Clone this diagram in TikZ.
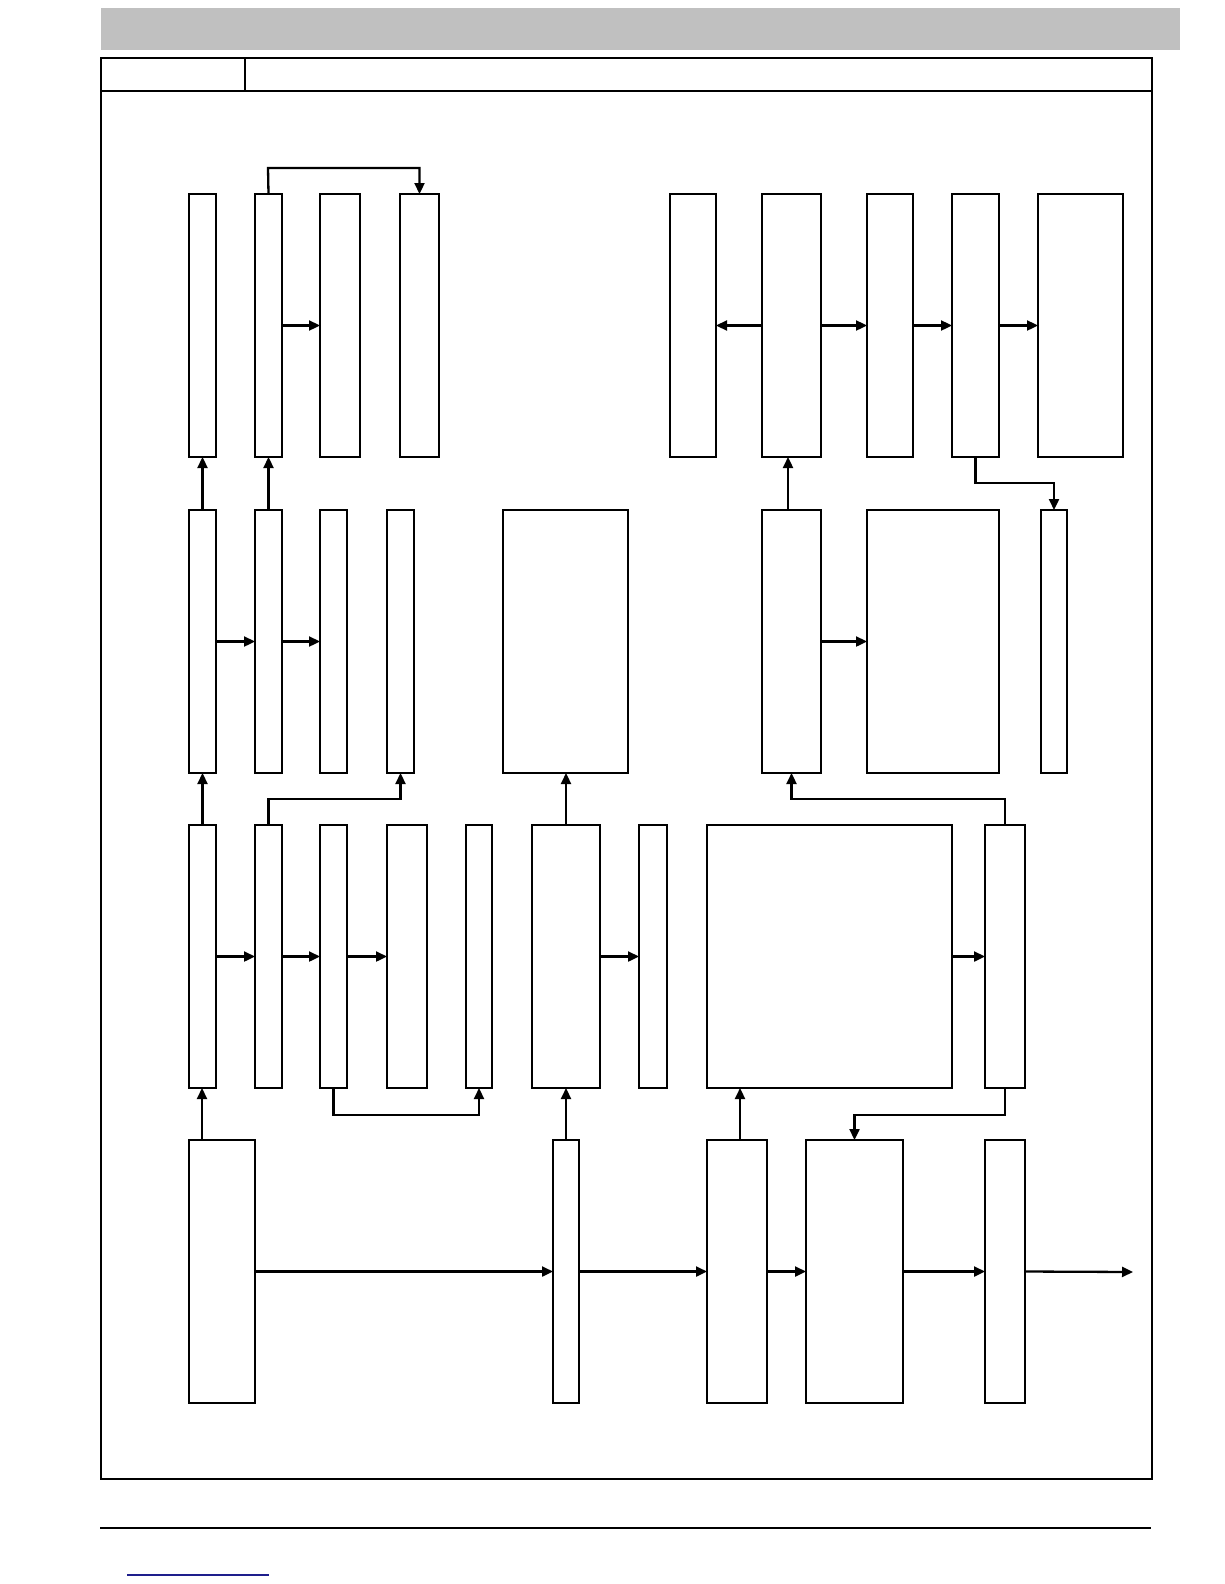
\documentclass[tikz,border=0pt]{standalone}
\usetikzlibrary{arrows.meta}
\definecolor{barGray}{RGB}{192,192,192}
\definecolor{linkBlue}{RGB}{30,30,140}
\tikzset{
  box/.style={draw=black, line width=1.7pt, fill=white, inner sep=0pt, outer sep=0pt, rectangle},
  flow/.style={line width=2.3pt, -{Triangle[length=11pt,width=10pt]}},
  framebox/.style={draw=black, line width=1.5pt},
}
\newcommand{\bx}[5]{\node[box,anchor=north west,minimum width={#4pt-#2pt},minimum height={#5pt-#3pt}] (#1) at (#2,#3) {};}
\begin{document}
\begin{tikzpicture}[x=1pt,y=-1pt]
\useasboundingbox (0,0) rectangle (1224,1584);
% header band
\fill[barGray] (101,8) rectangle (1180,50);
% frame
\draw[framebox] (101,58) rectangle (1152,1479);
\draw[line width=2.6pt] (101,91) -- (1152,91);
\draw[framebox] (245,58) -- (245,91);
% footer
\draw[line width=2.6pt] (100,1528) -- (1151,1528);
\draw[linkBlue, line width=1.2pt] (127,1575) -- (269,1575);

% row 1
\bx{A1}{189}{194}{216}{457}
\bx{A2}{255}{194}{282}{457}
\bx{A3}{320}{194}{360}{457}
\bx{A4}{400}{194}{439}{457}
\bx{B1}{670}{194}{716}{457}
\bx{B2}{762}{194}{821}{457}
\bx{B3}{867}{194}{913}{457}
\bx{B4}{952}{194}{999}{457}
\bx{B5}{1038}{194}{1123}{457}
% row 2
\bx{C1}{189}{510}{216}{773}
\bx{C2}{255}{510}{282}{773}
\bx{C3}{320}{510}{347}{773}
\bx{C4}{387}{510}{414}{773}
\bx{C5}{503}{510}{628}{773}
\bx{C6}{762}{510}{821}{773}
\bx{C7}{867}{510}{999}{773}
\bx{C8}{1041}{510}{1067}{773}
% row 3
\bx{D1}{189}{825}{216}{1088}
\bx{D2}{255}{825}{282}{1088}
\bx{D3}{320}{825}{347}{1088}
\bx{D4}{387}{825}{427}{1088}
\bx{D5}{466}{825}{492}{1088}
\bx{D6}{532}{825}{600}{1088}
\bx{D7}{639}{825}{667}{1088}
\bx{D8}{707}{825}{952}{1088}
\bx{D9}{985}{825}{1025}{1088}
% row 4
\bx{E1}{189}{1140}{255}{1403}
\bx{E2}{553}{1140}{579}{1403}
\bx{E3}{707}{1140}{767}{1403}
\bx{E4}{806}{1140}{903}{1403}
\bx{E5}{985}{1140}{1025}{1403}
\coordinate (out) at (1133,1272);

% horizontal arrows
\draw[flow] (A2.east) -- (A3.west);
\draw[flow] (B2.west) -- (B1.east);
\draw[flow] (B2.east) -- (B3.west);
\draw[flow] (B3.east) -- (B4.west);
\draw[flow] (B4.east) -- (B5.west);
\draw[flow] (C1.east) -- (C2.west);
\draw[flow] (C2.east) -- (C3.west);
\draw[flow] (C6.east) -- (C7.west);
\draw[flow] (D1.east) -- (D2.west);
\draw[flow] (D2.east) -- (D3.west);
\draw[flow] (D3.east) -- (D4.west);
\draw[flow] (D6.east) -- (D7.west);
\draw[flow] (D8.east) -- (D9.west);
\draw[flow] (E1.east) -- (E2.west);
\draw[flow] (E2.east) -- (E3.west);
\draw[flow] (E3.east) -- (E4.west);
\draw[flow] (E4.east) -- (E5.west);
\draw[flow] (E5.east) -- (out);

% vertical arrows
\draw[flow] (C1.north) -- (A1.south);
\draw[flow] (C2.north) -- (A2.south);
\draw[flow] (788,510) -- (788,457);
\draw[flow] (D1.north) -- (C1.south);
\draw[flow] (202,1140) -- (202,1088);
\draw[flow] (E2.north) -- (D6.south);
\draw[flow] (566,825) -- (566,773);
\draw[flow] (740,1140) -- (740,1088);

% bracket connectors
\draw[flow] (A2.north) -- (268,168) -| (A4.north);
\draw[flow] (B4.south) -- (975.5,483) -| (C8.north);
\draw[flow] (D2.north) -- (268.5,799) -| (C4.south);
\draw[flow] (D9.north) -- (1005,799) -| (C6.south);
\draw[flow] (D3.south) -- (333.5,1115) -| (D5.south);
\draw[flow] (D9.south) -- (1005,1115) -| (E4.north);
\end{tikzpicture}
\end{document}
